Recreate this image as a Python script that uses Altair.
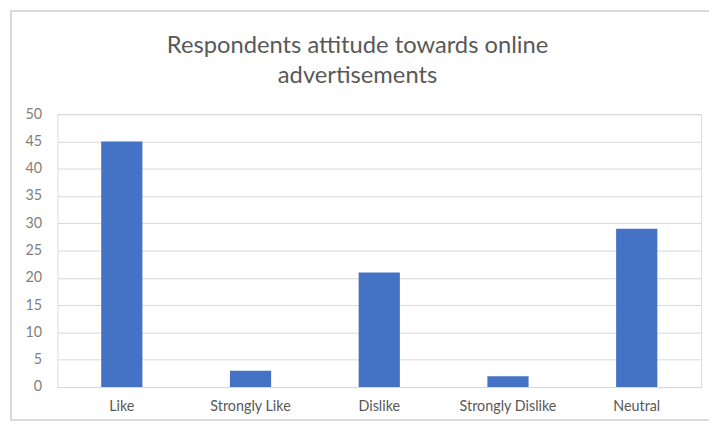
import altair as alt
import pandas as pd

categories = ["Like", "Strongly Like", "Dislike", "Strongly Dislike", "Neutral"]
values = [45, 3, 21, 2, 29]
y_ticks = [0, 5, 10, 15, 20, 25, 30, 35, 40, 45, 50]

df = pd.DataFrame({"category": categories, "value": values})

FONT = "Lato"
GREY = "#595959"

bars = alt.Chart(df).mark_bar(color="#4472C4").encode(
    x=alt.X(
        "category:N",
        sort=categories,
        title=None,
        scale=alt.Scale(paddingInner=0.68, paddingOuter=0.34),
        axis=alt.Axis(
            labelAngle=0,
            ticks=False,
            domainColor="#d9d9d9",
            labelColor=GREY,
            labelFont=FONT,
            labelFontSize=14.5,
            labelPadding=13,
        ),
    ),
    y=alt.Y(
        "value:Q",
        title=None,
        scale=alt.Scale(domain=[0, 50], nice=False),
        axis=alt.Axis(
            values=y_ticks,
            domain=False,
            ticks=False,
            gridColor="#d9d9d9",
            labelColor="#7f7f7f",
            labelFont=FONT,
            labelFontSize=14.5,
            labelPadding=16,
        ),
    ),
)

border = alt.Chart(df).mark_rect(fill=None, stroke="#d9d9d9", strokeWidth=1.5).encode(
    x=alt.value(-47), x2=alt.value(665), y=alt.value(-104), y2=alt.value(309)
)

chart = alt.layer(border, bars).properties(
    width=651,
    height=276,
    autosize=alt.AutoSizeParams(type="none"),
    padding={"left": 50, "top": 105, "right": 8, "bottom": 35},
    title=alt.TitleParams(
        text=["Respondents  attitude towards online", "advertisements"],
        font=FONT,
        fontSize=24,
        fontWeight="normal",
        color=GREY,
        lineHeight=30,
        anchor="middle",
        dx=-22,
        offset=0,
        dy=78,
    ),
).configure_view(stroke=None).configure(background="white")

chart.save("out.html", embed_options={"renderer": "svg", "actions": False})
